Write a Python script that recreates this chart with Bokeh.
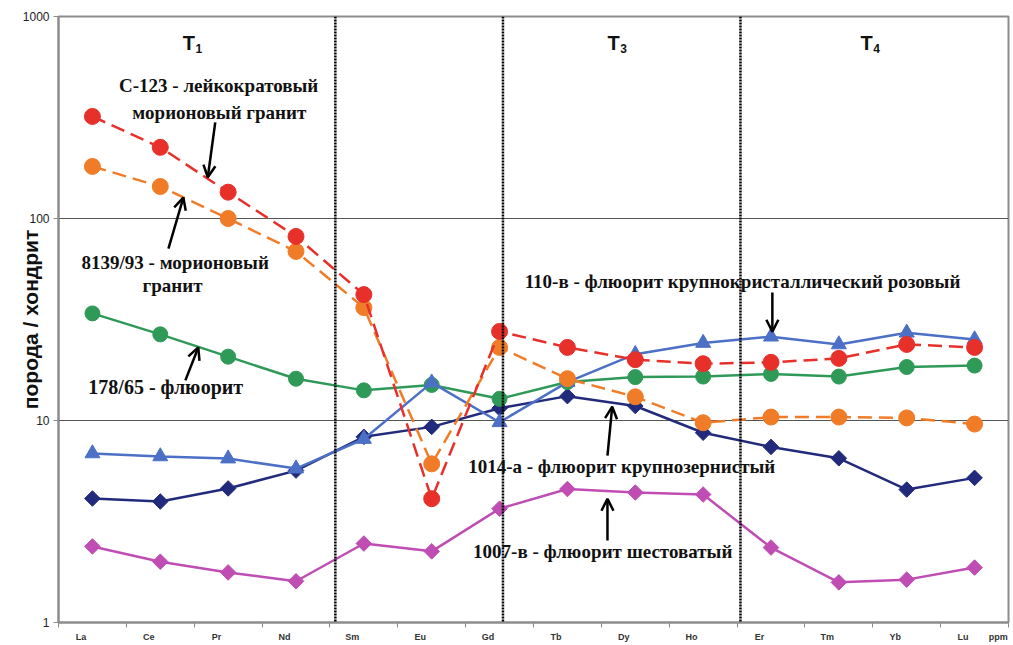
import math
from bokeh.plotting import figure
from bokeh.models import Range1d, FixedTicker, Label, Arrow, OpenHead, Span
from bokeh.embed import file_html
from bokeh.resources import INLINE

# ---------------- data ----------------
elements = ["La", "Ce", "Pr", "Nd", "Sm", "Eu", "Gd", "Tb", "Dy", "Ho", "Er", "Tm", "Yb", "Lu"]
unit_label = "ppm"
y_ticks = [1, 10, 100, 1000]
y_tick_labels = ["1", "10", "100", "1000"]

c123 = [320, 225, 135, 81.5, 42, 4.1, 27.6, 23.0, 20.0, 19.1, 19.4, 20.3, 23.8, 23.0]
s8139 = [181, 144, 100, 68.7, 36.2, 6.1, 23.0, 16.1, 13.1, 9.75, 10.4, 10.4, 10.3, 9.6]
s178 = [33.9, 26.7, 20.7, 16.1, 14.1, 15.0, 12.8, 15.5, 16.4, 16.5, 17.0, 16.5, 18.4, 18.7]
s110 = [6.87, 6.64, 6.48, 5.78, 8.1, 15.4, 9.8, 15.5, 21.3, 24.2, 26.0, 23.8, 27.2, 25.2]
s1014 = [4.11, 3.97, 4.61, 5.65, 8.3, 9.3, 11.5, 13.2, 11.8, 8.7, 7.4, 6.5, 4.55, 5.2]
s1007 = [2.38, 2.00, 1.77, 1.60, 2.46, 2.25, 3.66, 4.58, 4.40, 4.30, 2.35, 1.58, 1.63, 1.87]

x = list(range(len(elements)))

# ---------------- figure ----------------
p = figure(
    x_range=Range1d(-0.5, 13.5), y_range=Range1d(1, 1000), y_axis_type="log",
    frame_width=950, frame_height=606, width=1013, height=645,
    min_border_left=58, min_border_right=5, min_border_top=16, min_border_bottom=23,
    output_backend="svg", toolbar_location=None,
)
p.background_fill_color = "white"
p.border_fill_color = "white"
p.outline_line_color = "#8c8c8c"
p.outline_line_width = 2

# y axis
p.yaxis.ticker = FixedTicker(ticks=y_ticks)
p.yaxis.major_label_overrides = {k: v for k, v in zip(y_ticks, y_tick_labels)}
p.yaxis.minor_tick_line_color = None
p.yaxis.major_tick_out = 5
p.yaxis.major_tick_in = 0
p.yaxis.major_tick_line_color = "#8c8c8c"
p.yaxis.axis_line_color = "#8c8c8c"
p.yaxis.axis_line_width = 2
p.yaxis.major_label_text_font = "Liberation Sans"
p.yaxis.major_label_text_font_size = "12px"
p.yaxis.major_label_text_color = "#222222"
p.yaxis.major_label_standoff = 4
p.yaxis.axis_label = "порода / хондрит"
p.yaxis.axis_label_text_font = "Liberation Sans"
p.yaxis.axis_label_text_font_style = "bold"
p.yaxis.axis_label_text_font_size = "21px"
p.yaxis.axis_label_text_color = "#111111"
p.yaxis.axis_label_standoff = -22

# x axis: labels slightly left of category centers, ticks at boundaries
label_pos = [i - 0.17 for i in x] + [13.35]
label_txt = elements + [unit_label]
p.xaxis.ticker = FixedTicker(ticks=label_pos, minor_ticks=[i - 0.5 for i in range(len(elements) + 1)])
p.xaxis.major_label_overrides = {k: v for k, v in zip(label_pos, label_txt)}
p.xaxis.major_tick_out = 0
p.xaxis.major_tick_in = 0
p.xaxis.major_tick_line_color = None
p.xaxis.minor_tick_out = 5
p.xaxis.minor_tick_in = 0
p.xaxis.minor_tick_line_color = "#8c8c8c"
p.xaxis.axis_line_color = "#8c8c8c"
p.xaxis.axis_line_width = 2
p.xaxis.major_label_text_font = "Liberation Sans"
p.xaxis.major_label_text_font_style = "bold"
p.xaxis.major_label_text_font_size = "9px"
p.xaxis.major_label_text_color = "#333333"
p.xaxis.major_label_standoff = 4

p.xgrid.grid_line_color = None
p.ygrid.ticker = FixedTicker(ticks=[10, 100])
p.ygrid.grid_line_color = "#555555"
p.ygrid.grid_line_width = 1

# dotted dividers
for loc in [3.58, 6.05, 9.55]:
    p.add_layout(Span(location=loc, dimension="height", line_color="black",
                      line_width=2.5, line_dash="2 1"))

# ---------------- series ----------------
MAG, NAVY, GREEN, BLUE, ORANGE, RED = "#BF4DB3", "#222A7C", "#2F9A58", "#4C70C6", "#F07C28", "#E8302A"

p.line(x, s1007, line_color=MAG, line_width=2.5)
p.scatter(x, s1007, marker="square", angle=math.pi / 4, size=11, fill_color=MAG, line_color=MAG)

p.line(x, s1014, line_color=NAVY, line_width=2.5)
p.scatter(x, s1014, marker="square", angle=math.pi / 4, size=11, fill_color=NAVY, line_color=NAVY)

p.line(x, s178, line_color=GREEN, line_width=2.5)
p.scatter(x, s178, marker="circle", size=15, fill_color=GREEN, line_color=GREEN)

p.line(x, s110, line_color=BLUE, line_width=2.5)
p.scatter(x, s110, marker="triangle", size=15, fill_color=BLUE, line_color=BLUE)

p.line(x, s8139, line_color=ORANGE, line_width=2.5, line_dash="14 7")
p.scatter(x, s8139, marker="circle", size=16, fill_color=ORANGE, line_color=ORANGE)

p.line(x, c123, line_color=RED, line_width=2.5, line_dash="14 7")
p.scatter(x, c123, marker="circle", size=16, fill_color=RED, line_color=RED)

# ---------------- annotations ----------------
def lab(xx, yy, txt, size, font="Liberation Serif", style="bold", color="#111111"):
    p.add_layout(Label(x=xx, y=yy, text=txt, text_font=font, text_font_style=style,
                       text_font_size=size, text_align="center", text_baseline="middle",
                       text_color=color))

def arr(x0, y0, x1, y1):
    p.add_layout(Arrow(end=OpenHead(size=12, line_width=2.5, line_color="black"),
                       x_start=x0, y_start=y0, x_end=x1, y_end=y1,
                       line_width=2.5, line_color="black"))

lab(1.86, 455, "С-123 - лейкократовый", "19px")
lab(1.87, 335, "морионовый гранит", "19px")
arr(1.81, 299, 1.70, 160)

lab(1.22, 60.6, "8139/93 - морионовый", "19px")
lab(1.18, 46.6, "гранит", "19px")
arr(1.12, 71, 1.34, 127)

lab(1.08, 14.6, "178/65 - флюорит", "20px")
arr(1.37, 15.8, 1.56, 23.0)

lab(9.58, 48.8, "110-в - флюорит крупнокристаллический розовый", "19px")
arr(10.02, 43.0, 10.02, 27.5)

lab(7.80, 5.92, "1014-а - флюорит крупнозернистый", "19px")
arr(7.59, 6.7, 7.66, 11.7)

lab(7.52, 2.25, "1007-в - флюорит шестоватый", "19px")
arr(7.59, 2.55, 7.59, 4.1)

# period labels T1, T3, T4
for tx, sub in [(1.42, "1"), (7.68, "3"), (11.41, "4")]:
    p.add_layout(Label(x=tx, y=743, text="T", text_font="Liberation Sans", text_font_style="bold",
                       text_font_size="20px", text_align="center", text_baseline="middle",
                       text_color="#111111"))
    p.add_layout(Label(x=tx, y=743, x_offset=10, y_offset=-6, text=sub, text_font="Liberation Sans",
                       text_font_style="bold", text_font_size="12px", text_align="center",
                       text_baseline="middle", text_color="#111111"))

open("out.html", "w").write(file_html(p, INLINE))
